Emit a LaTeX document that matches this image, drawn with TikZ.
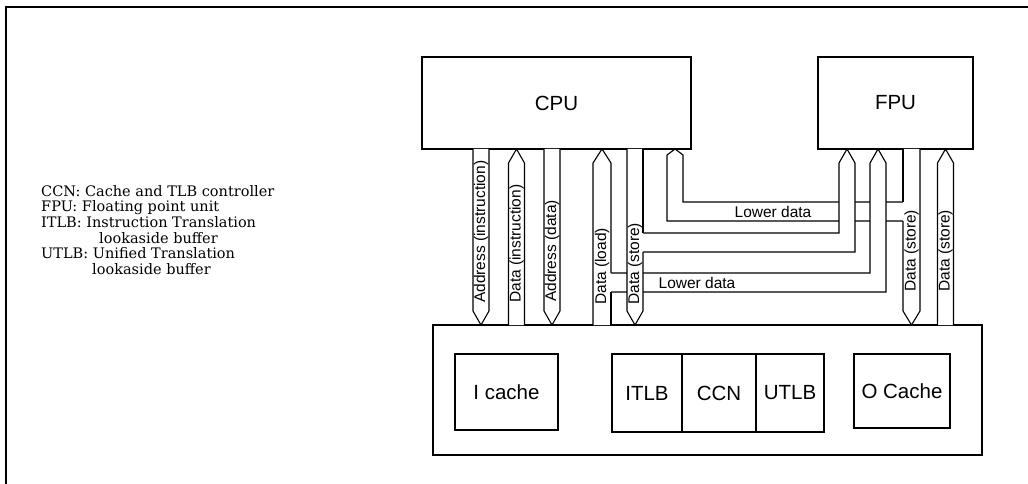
\documentclass[tikz,border=0pt]{standalone}
\usepackage{fontspec}
\setmainfont{DejaVu Serif}
\setsansfont{Liberation Sans}
\tikzset{
  wire/.style={line width=1.1pt, line join=miter},
  unit/.style={draw, line width=1.1pt, inner sep=0pt, font=\sffamily\fontsize{20.5}{24}\selectfont},
  buslabel/.style={rotate=90, anchor=west, inner sep=0pt, font=\sffamily\fontsize{15.5}{18}\selectfont},
  flowlabel/.style={inner sep=0pt, font=\sffamily\fontsize{15.5}{18}\selectfont},
  legend/.style={align=left, inner sep=0pt, font=\rmfamily\fontsize{14.5}{15.6}\selectfont}
}
\newcommand{\busDown}[3]{ \draw[wire, fill=white] (#1-8,149) -- (#1-8,311) -- (#1,325) -- (#1+8,311) -- (#1+8,149); \node[buslabel] at (#1,#2) {#3};}
\newcommand{\busUp}[3]{ \draw[wire, fill=white] (#1-8,325) -- (#1-8,163) -- (#1,149) -- (#1+8,163) -- (#1+8,325); \node[buslabel] at (#1,#2) {#3};}
\begin{document}
\begin{tikzpicture}[x=1pt,y=-1pt]
    \useasboundingbox (0,0) rectangle (1028,484);
    \draw[line width=1.5pt] (6,484) -- (6,7) -- (1028,7);
    % key
    \node[legend, anchor=north west] (key) at (41,185) {CCN: Cache and TLB controller\\FPU: Floating point unit\\ITLB: Instruction Translation\\\hspace*{58pt}lookaside buffer\\UTLB: Unified Translation\\\hspace*{51pt}lookaside buffer};
    % processors
    \node[unit, minimum width=269, minimum height=92] (cpu) at (556.5,103) {CPU};
    \node[unit, minimum width=155, minimum height=92] (fpu) at (895.5,103) {FPU};
    % cache block
    \node[unit, minimum width=549, minimum height=130] (cachebox) at (707.5,390) {};
    \node[unit, minimum width=103, minimum height=76] (icache) at (506.5,392) {I cache};
    \node[unit, minimum width=70, minimum height=78] (itlb) at (647,393) {ITLB};
    \node[unit, minimum width=74, minimum height=78] (ccn) at (719,393) {CCN};
    \node[unit, minimum width=68, minimum height=78] (utlb) at (790,393) {UTLB};
    \node[unit, minimum width=96, minimum height=74] (ocache) at (902,391) {O Cache};
    % lower data, FPU to CPU
    \draw[wire, fill=white] (903,202) -- (683,202) -- (683,155) -- (675,149) -- (667,155) -- (667,221) -- (903,221);
    \node[flowlabel] (lowup) at (773,212) {Lower data};
    % store data to FPU
    \draw[wire, fill=white] (643,233) -- (839,233) -- (839,163) -- (847,149) -- (855,163) -- (855,252) -- (643,252);
    % load data to FPU
    \draw[wire, fill=white] (611,273) -- (870,273) -- (870,163) -- (878,149) -- (886,163) -- (886,292) -- (611,292);
    \node[flowlabel] (lowdown) at (697,283) {Lower data};
    % CPU buses
    \busDown{481}{303}{Address (instruction)}
    \busUp{516.5}{303}{Data (instruction)}
    \busDown{552}{302}{Address (data)}
    \fill[white] (593,325) -- (593,163) -- (602,149) -- (611,163) -- (611,325) -- cycle;
    \draw[wire] (611,273) -- (611,163) -- (602,149) -- (593,163) -- (593,325);
    \draw[wire] (611,292) -- (611,325);
    \node[buslabel] at (602,305) {Data (load)};
    \fill[white] (627,149) -- (627,311) -- (635,325) -- (643,311) -- (643,149) -- cycle;
    \draw[wire] (643,233) -- (643,149);
    \draw[wire] (627,149) -- (627,311) -- (635,325) -- (643,311) -- (643,252);
    \node[buslabel] at (635,305) {Data (store)};
    % FPU buses
    \fill[white] (903,149) -- (903,311) -- (911.5,325) -- (920,311) -- (920,149) -- cycle;
    \draw[wire] (903,149) -- (903,202);
    \draw[wire] (903,221) -- (903,311) -- (911.5,325) -- (920,311) -- (920,149);
    \node[buslabel] at (911.5,292) {Data (store)};
    \busUp{945.5}{292}{Data (store)}
\end{tikzpicture}
\end{document}
